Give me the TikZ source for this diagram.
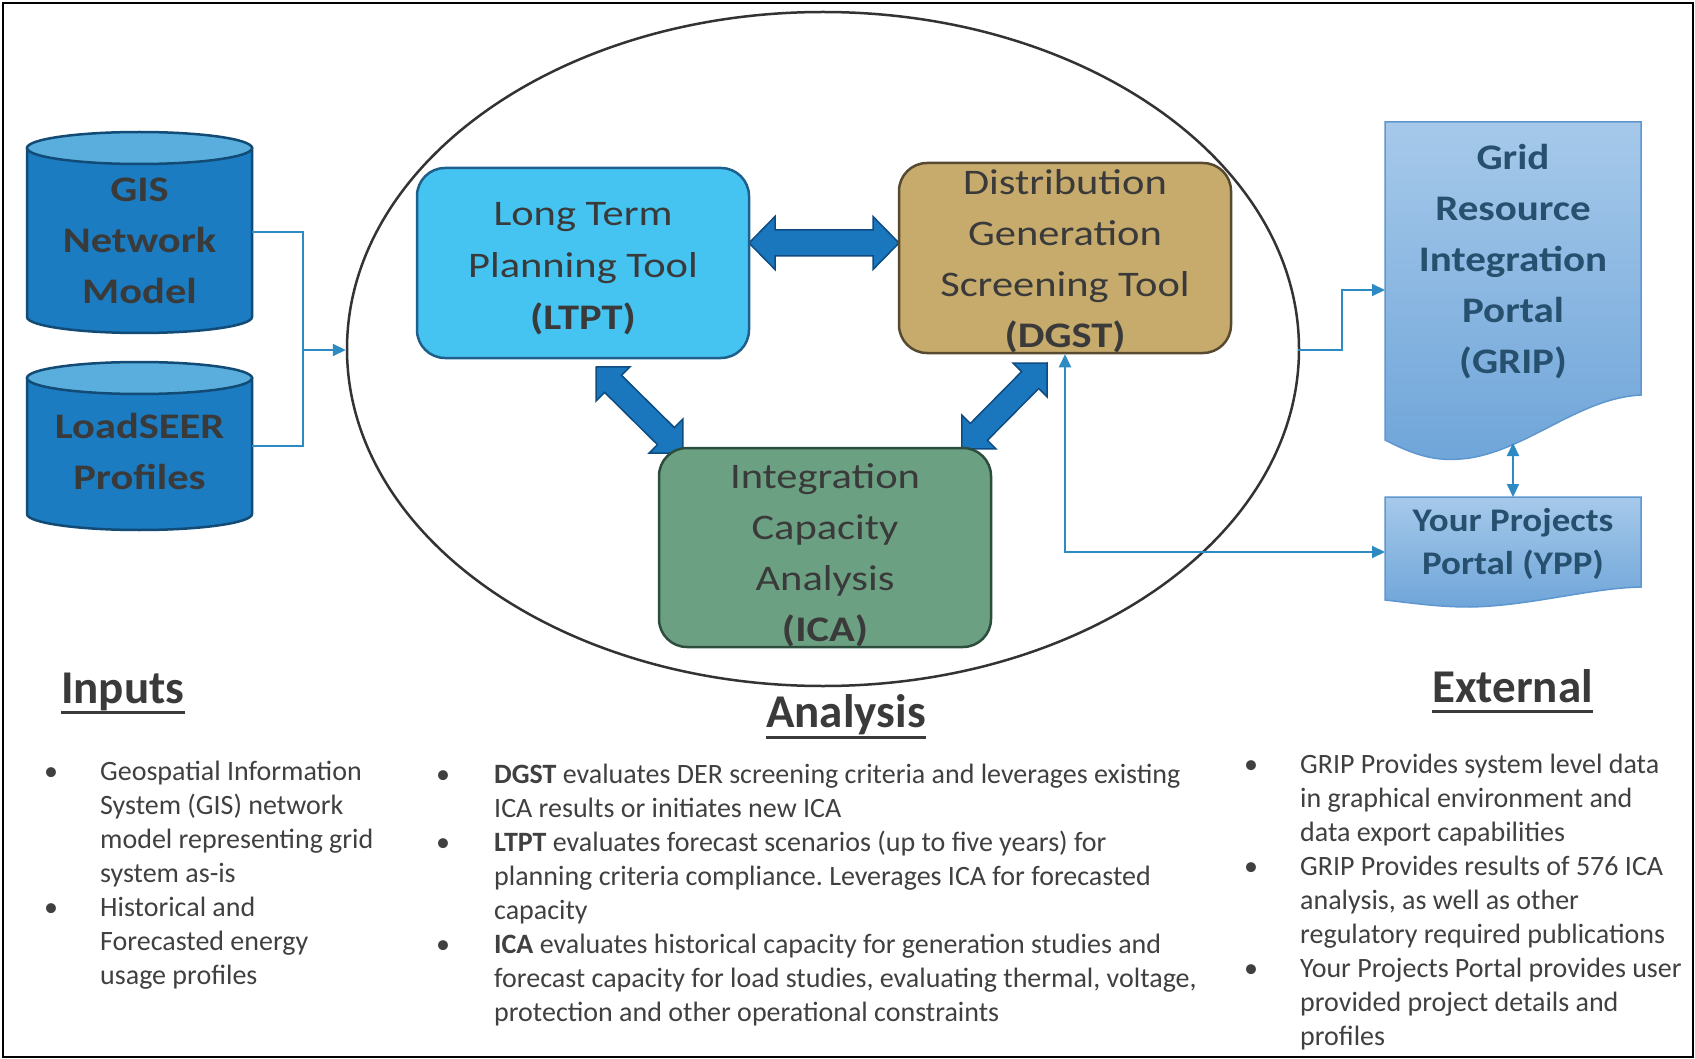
\documentclass[tikz,border=0pt]{standalone}
\usepackage{fontspec}
\setmainfont{Carlito}
\newfontfamily\toolfont{Carlito}[FakeStretch=1.18]
\newfontfamily\portalfont{Carlito}[FakeStretch=1.14]
\newfontfamily\yppfont{Carlito}[FakeStretch=1.12]
\usetikzlibrary{calc,arrows.meta,shapes.geometric}
\frenchspacing

\definecolor{ltptfill}{HTML}{45C4F2}
\definecolor{ltptline}{HTML}{1E5F8C}
\definecolor{dgstfill}{HTML}{C6AB6C}
\definecolor{dgstline}{HTML}{574A30}
\definecolor{icafill}{HTML}{6CA083}
\definecolor{icaline}{HTML}{2D4E3D}
\definecolor{cylbody}{HTML}{1B7CC1}
\definecolor{cyltop}{HTML}{5AAEDD}
\definecolor{cylline}{HTML}{124B76}
\definecolor{arrowfill}{HTML}{1A77BE}
\definecolor{arrowline}{HTML}{0E4B80}
\definecolor{linkblue}{HTML}{2E8AC2}
\definecolor{doctop}{HTML}{A6C9EA}
\definecolor{docbot}{HTML}{6FA5D9}
\definecolor{docline}{HTML}{5E97CF}
\definecolor{doctext}{HTML}{27506F}
\definecolor{inktext}{HTML}{3A3A3A}
\definecolor{bodytext}{HTML}{404040}
\definecolor{ringline}{HTML}{333333}

\begin{document}
\begin{tikzpicture}[x=1pt,y=-1pt,
  tool/.style={rounded corners=28pt, line width=2.5pt, minimum width=332pt,
    minimum height=190pt, inner sep=0pt},
  tooltext/.style={inner sep=0pt, align=center, text=inktext,
    font=\toolfont\fontsize{36}{51}\selectfont},
  anchorbox/.style={inner sep=0pt, outer sep=0pt},
  cyltext/.style={inner sep=0pt, align=center, text=inktext,
    font=\toolfont\fontsize{36}{51}\selectfont\bfseries},
  cylside/.style={fill=cylbody, draw=cylline, line width=2.5pt},
  cylcap/.style={ellipse, fill=cyltop, draw=cylline, line width=2.5pt,
    minimum width=225pt, minimum height=32pt, inner sep=0pt},
  docshape/.style={top color=doctop, bottom color=docbot, draw=docline, line width=1.5pt},
  doctxt/.style={inner sep=0pt, align=center, text=doctext,
    font=\portalfont\fontsize{36}{51}\selectfont\bfseries},
  conn/.style={draw=linkblue, line width=2pt},
  >={Triangle[length=13pt,width=12pt]},
  blockarrow/.style args={#1/#2/#3}{fill=arrowfill, draw=arrowline, line width=1.5pt,
    to path={
      -- ($(\tikztostart)!#3!(\tikztotarget)!#2!90:(\tikztotarget)$)
      -- ($(\tikztostart)!#3!(\tikztotarget)!#1!90:(\tikztotarget)$)
      -- ($(\tikztotarget)!#3!(\tikztostart)!#1!-90:(\tikztostart)$)
      -- ($(\tikztotarget)!#3!(\tikztostart)!#2!-90:(\tikztostart)$)
      -- (\tikztotarget)
      -- ($(\tikztotarget)!#3!(\tikztostart)!#2!90:(\tikztostart)$)
      -- ($(\tikztotarget)!#3!(\tikztostart)!#1!90:(\tikztostart)$)
      -- ($(\tikztostart)!#3!(\tikztotarget)!#1!-90:(\tikztotarget)$)
      -- ($(\tikztostart)!#3!(\tikztotarget)!#2!-90:(\tikztotarget)$)
      -- cycle}},
  head/.style={inner sep=0pt, text=inktext, font=\fontsize{47}{56}\selectfont\bfseries},
  uline/.style={draw=inktext, line width=3pt},
  bullets/.style={inner sep=0pt, text=bodytext, font=\fontsize{28}{34}\selectfont}
]
\useasboundingbox (0,0) rectangle (1695,1059);
\fill[white] (0,0) rectangle (1695,1059);
\draw[line width=2.5pt] (3,3) rectangle (1693,1057);

% analysis ring
\node[ellipse, draw=ringline, line width=2.5pt, minimum width=952pt,
  minimum height=674pt, inner sep=0pt] (analysis) at (823,349) {};

% block arrows between the tools
\coordinate (hL) at (749,243);
\coordinate (hR) at (899,243);
\coordinate (d1a) at (596,367);
\coordinate (d1b) at (683,453);
\coordinate (d2a) at (1047,363);
\coordinate (d2b) at (962,449);
\path[blockarrow=13pt/26.5pt/26pt] (hL) to (hR);
\path[blockarrow=12pt/24pt/24pt] (d1a) to (d1b);
\path[blockarrow=12pt/24pt/24pt] (d2a) to (d2b);

% tools
\node[tool, fill=ltptfill, draw=ltptline] (ltpt) at (583,263) {};
\node[tooltext, font=\toolfont\fontsize{36}{52}\selectfont] (ltpttext) at (583,268.5)
  {Long Term\\Planning Tool\\\textbf{(LTPT)}};
\node[tool, fill=dgstfill, draw=dgstline] (dgst) at (1065,258) {};
\node[tooltext] (dgsttext) at (1065,261)
  {Distribution\\Generation\\Screening Tool\\\textbf{(DGST)}};
\node[tool, fill=icafill, draw=icaline, minimum height=199pt] (ica) at (825,547.5) {};
\node[tooltext] (icatext) at (825,555)
  {Integration\\Capacity\\Analysis\\\textbf{(ICA)}};

% input databases
\path[cylside] (27,148) -- (27,317) .. controls (27,325.8) and (77.4,333) .. (139.5,333)
  .. controls (201.6,333) and (252,325.8) .. (252,317) -- (252,148) -- cycle;
\node[cylcap] (gistop) at (139.5,148) {};
\node[anchorbox, minimum width=225pt, minimum height=201pt] (gis) at (139.5,232.5) {};
\node[cyltext] (gistext) at (139.5,241) {GIS\\Network\\Model};

\path[cylside] (27,378) -- (27,514) .. controls (27,522.8) and (77.4,530) .. (139.5,530)
  .. controls (201.6,530) and (252,522.8) .. (252,514) -- (252,378) -- cycle;
\node[cylcap] (loadtop) at (139.5,378) {};
\node[anchorbox, minimum width=225pt, minimum height=168pt] (loadseer) at (139.5,446) {};
\node[cyltext] (loadtext) at (139.5,451.5) {LoadSEER\\Profiles};

% external portals
\path[docshape] (1385,122) -- (1641,122) -- (1641,395)
  .. controls (1580,398) and (1530,448) .. (1470,458)
  .. controls (1440,462) and (1420,458) .. (1385,440) -- cycle;
\node[anchorbox, minimum width=256pt, minimum height=336pt] (grip) at (1513,290) {};
\node[doctxt] (griptext) at (1513,262) {Grid\\Resource\\Integration\\Portal\\(GRIP)};

\path[docshape] (1385,497) -- (1641,497) -- (1641,587)
  .. controls (1590,588) and (1530,606) .. (1470,607)
  .. controls (1440,607) and (1420,604) .. (1385,600) -- cycle;
\node[anchorbox, minimum width=256pt, minimum height=110pt] (ypp) at (1513,552) {};
\node[doctxt, font=\yppfont\fontsize{33}{43}\selectfont\bfseries] (ypptext) at (1513,544)
  {Your Projects\\Portal (YPP)};

% data links
\coordinate (inmerge) at (303,350);
\draw[conn] (gis.east) -| (inmerge) |- (loadseer.east);
\draw[conn,->] (inmerge) -- (inmerge -| analysis.west);
\coordinate (anaout) at (1298,350);
\draw[conn,->] (anaout) -- ++(44,0) |- (grip.west);
\draw[conn,<->] (dgst.south) |- (ypp.west);
\coordinate (gripfoot) at (1513,443);
\draw[conn,<->] (gripfoot) -- (ypp.north);

% headings
\node[head, anchor=base west] (hin) at (61,703) {Inputs};
\draw[uline] ([yshift=-9pt]hin.base west) -- ([yshift=-9pt]hin.base east);
\node[head, anchor=base west] (han) at (766,727) {Analysis};
\draw[uline] ([yshift=-10pt]han.base west) -- ([yshift=-10pt]han.base east);
\node[head, anchor=base west] (hex) at (1432,702) {External};
\draw[uline] ([yshift=-9pt]hex.base west) -- ([yshift=-9pt]hex.base east);

% descriptions
\node[bullets, anchor=base west] (inlist) at (44,780) {%
  \begin{tabular}[t]{@{}p{56pt}@{}l@{}}
  \textbullet & Geospatial Information\\
  & System (GIS) network\\
  & model representing grid\\
  & system as-is\\
  \textbullet & Historical and\\
  & Forecasted energy\\
  & usage profiles
  \end{tabular}};

\node[bullets, anchor=base west] (anlist) at (436,783) {%
  \begin{tabular}[t]{@{}p{58pt}@{}l@{}}
  \textbullet & \textbf{DGST} evaluates DER screening criteria and leverages existing\\
  & ICA results or initiates new ICA\\
  \textbullet & \textbf{LTPT} evaluates forecast scenarios (up to five years) for\\
  & planning criteria compliance. Leverages ICA for forecasted\\
  & capacity\\
  \textbullet & \textbf{ICA} evaluates historical capacity for generation studies and\\
  & forecast capacity for load studies, evaluating thermal, voltage,\\
  & protection and other operational constraints
  \end{tabular}};

\node[bullets, anchor=base west] (exlist) at (1244,773) {%
  \begin{tabular}[t]{@{}p{56pt}@{}l@{}}
  \textbullet & GRIP Provides system level data\\
  & in graphical environment and\\
  & data export capabilities\\
  \textbullet & GRIP Provides results of 576 ICA\\
  & analysis, as well as other\\
  & regulatory required publications\\
  \textbullet & Your Projects Portal provides user\\
  & provided project details and\\
  & profiles
  \end{tabular}};
\end{tikzpicture}
\end{document}
